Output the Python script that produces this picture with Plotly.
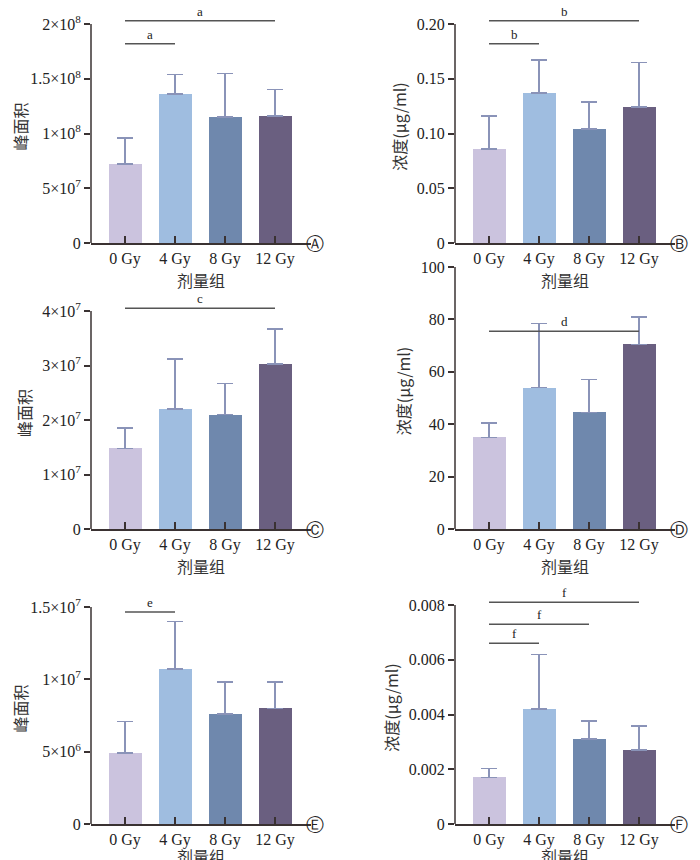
import plotly.graph_objects as go

cats = ["0 Gy", "4 Gy", "8 Gy", "12 Gy"]
colors = ["#cbc3de", "#9fbde0", "#6f88ad", "#6a5f80"]

a_vals = [0.72e8, 1.36e8, 1.15e8, 1.16e8]
a_err = [0.24e8, 0.18e8, 0.40e8, 0.24e8]
b_vals = [0.086, 0.137, 0.104, 0.124]
b_err = [0.030, 0.030, 0.025, 0.041]
c_vals = [1.48e7, 2.20e7, 2.10e7, 3.03e7]
c_err = [0.37e7, 0.92e7, 0.57e7, 0.64e7]
d_vals = [35, 54, 44.5, 70.5]
d_err = [5.5, 24.5, 12.5, 10.5]
e_vals = [4.9e6, 10.7e6, 7.6e6, 8.0e6]
e_err = [2.2e6, 3.3e6, 2.2e6, 1.8e6]
f_vals = [0.0017, 0.0042, 0.0031, 0.0027]
f_err = [0.00032, 0.0020, 0.00066, 0.00088]

a_ticks = [0, 5e7, 1e8, 1.5e8, 2e8]
a_labels = ["0", "5×10<sup>7</sup>", "1×10<sup>8</sup>", "1.5×10<sup>8</sup>", "2×10<sup>8</sup>"]
b_ticks = [0, 0.05, 0.10, 0.15, 0.20]
b_labels = ["0", "0.05", "0.10", "0.15", "0.20"]
c_ticks = [0, 1e7, 2e7, 3e7, 4e7]
c_labels = ["0", "1×10<sup>7</sup>", "2×10<sup>7</sup>", "3×10<sup>7</sup>", "4×10<sup>7</sup>"]
d_ticks = [0, 20, 40, 60, 80, 100]
d_labels = ["0", "20", "40", "60", "80", "100"]
e_ticks = [0, 5e6, 1e7, 1.5e7]
e_labels = ["0", "5×10<sup>6</sup>", "1×10<sup>7</sup>", "1.5×10<sup>7</sup>"]
f_ticks = [0, 0.002, 0.004, 0.006, 0.008]
f_labels = ["0", "0.002", "0.004", "0.006", "0.008"]

a_br = [(0, 1, 1.82e8, "a"), (0, 3, 2.03e8, "a")]
b_br = [(0, 1, 0.182, "b"), (0, 3, 0.203, "b")]
c_br = [(0, 3, 4.05e7, "c")]
d_br = [(0, 3, 75.5, "d")]
e_br = [(0, 1, 1.465e7, "e"), (0, 3, 1.67e7, "e")]
f_br = [(0, 1, 0.0066, "f"), (0, 2, 0.0073, "f"), (0, 3, 0.0081, "f")]

W, H = 700, 860
panels = [
    (a_vals, a_err, a_ticks, a_labels, a_br, "峰面积", 235, 16, 2e8, 83, "Ⓐ"),
    (b_vals, b_err, b_ticks, b_labels, b_br, "浓度(μg/ml)", 235, 16, 0.20, 447, "Ⓑ"),
    (c_vals, c_err, c_ticks, c_labels, c_br, "峰面积", 521, 303, 4e7, 83, "Ⓒ"),
    (d_vals, d_err, d_ticks, d_labels, d_br, "浓度(μg/ml)", 521, 259, 100, 447, "Ⓓ"),
    (e_vals, e_err, e_ticks, e_labels, e_br, "峰面积", 816, 599, 1.5e7, 83, "Ⓔ"),
    (f_vals, f_err, f_ticks, f_labels, f_br, "浓度(μg/ml)", 816, 597, 0.008, 447, "Ⓕ"),
]

serif = "Liberation Serif"
cjk = "Noto Sans CJK SC"
fig = go.Figure()
shapes, annots = [], []
layout = {}
for i, (vals, err, ticks, labels, brs, ytitle, z, t, tmax, xl, letter) in enumerate(panels):
    n = i + 1
    xa, ya = f"x{n}" if n > 1 else "x", f"y{n}" if n > 1 else "y"
    xk, yk = f"xaxis{n}" if n > 1 else "xaxis", f"yaxis{n}" if n > 1 else "yaxis"
    ppu = (z - t) / tmax
    top_px = max(z - 260, 0) if False else (z - (z - t) - 14)
    rmax = (z - top_px) / ppu
    fig.add_trace(go.Bar(x=cats, y=vals, marker_color=colors, width=0.66, marker_line_width=0,
                         error_y=dict(type="data", array=err, arrayminus=[0] * 4, symmetric=False,
                                      color="#8a93b8", thickness=1.5, width=8),
                         xaxis=xa, yaxis=ya, showlegend=False))
    layout[xk] = dict(type="category", categoryorder="array", categoryarray=cats,
                      domain=[xl / W, (xl + 220) / W], range=[-0.68, 3.72], anchor=ya,
                      automargin=False, showgrid=False,
                      showline=True, linecolor="#3a3232", linewidth=1.5, ticks="inside", ticklen=7,
                      tickcolor="#3a3232", tickwidth=1.5,
                      tickfont=dict(family=serif, size=16, color="#222"),
                      title=dict(text="剂量组", font=dict(family=cjk, size=16, color="#333"), standoff=4))
    layout[yk] = dict(type="linear", domain=[1 - z / H, 1 - top_px / H], range=[0, rmax], anchor=xa,
                      automargin=False, showline=False, showgrid=False, zeroline=False,
                      tickvals=ticks, ticktext=labels,
                      ticks="outside", ticklen=6, tickcolor="#3a3232", tickwidth=1.5,
                      tickfont=dict(family=serif, size=16, color="#222"),
                      title=dict(text=ytitle, font=dict(family=cjk, size=16, color="#333"), standoff=6))
    shapes.append(dict(type="line", xref=xa + " domain", yref=ya, x0=0, x1=0, y0=0, y1=tmax,
                       line=dict(color="#3a3232", width=1.5)))
    for (a, b, lvl, txt) in brs:
        shapes.append(dict(type="line", xref=xa, yref=ya, x0=a, x1=b, y0=lvl, y1=lvl,
                           line=dict(color="#555", width=1.5)))
        annots.append(dict(x=(a + b) / 2, y=lvl, xref=xa, yref=ya, text=txt, showarrow=False,
                           yanchor="bottom", yshift=0, font=dict(family=serif, size=13, color="#222")))
    annots.append(dict(x=1.07, y=0, xref=xa + " domain", yref=ya, text=letter, showarrow=False,
                       yanchor="middle", font=dict(family="DejaVu Sans", size=18, color="#222")))

fig.update_layout(**layout)
fig.update_layout(width=W, height=H, margin=dict(l=0, r=0, t=0, b=0), plot_bgcolor="white",
                  paper_bgcolor="white", shapes=shapes, annotations=annots, bargap=0)
fig.write_html("out.html")
